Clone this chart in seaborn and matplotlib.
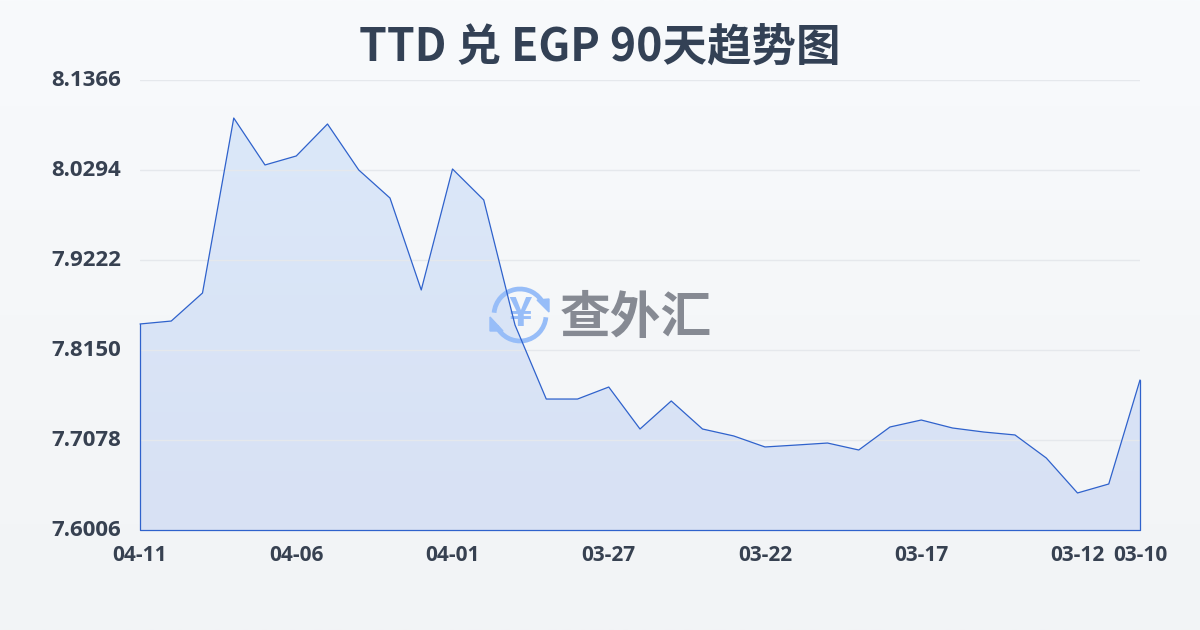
import numpy as np
import pandas as pd
import matplotlib
matplotlib.use("Agg")
import matplotlib.pyplot as plt
from matplotlib.patches import Arc, Polygon
from matplotlib.transforms import ScaledTranslation
import seaborn as sns

steps = list(range(33))
rates = [7.8460, 7.8495, 7.8829, 8.0913, 8.0354, 8.0461, 8.0842, 8.0294, 7.9960, 7.8865, 8.0306,
         7.9937, 7.8448, 7.7566, 7.7566, 7.7709, 7.7209, 7.7543, 7.7209, 7.7126, 7.6995, 7.7018,
         7.7042, 7.6959, 7.7233, 7.7316, 7.7221, 7.7173, 7.7138, 7.6864, 7.6447, 7.6554, 7.7793]
x_ticks = [0, 5, 10, 15, 20, 25, 30, 32]
x_labels = ["04-11", "04-06", "04-01", "03-27", "03-22", "03-17", "03-12", "03-10"]
y_ticks = [7.6006, 7.7078, 7.8150, 7.9222, 8.0294, 8.1366]
y_labels = ["7.6006", "7.7078", "7.8150", "7.9222", "8.0294", "8.1366"]
title = "TTD 兑 EGP 90天趋势图"
watermark = "查外汇"

sns.set_theme(style="white")
plt.rcParams['font.family'] = ['Noto Sans CJK SC', 'DejaVu Sans']
W, H = 1200, 630
fig = plt.figure(figsize=(12, 6.3), dpi=100)

# page background gradient
bg = fig.add_axes([0, 0, 1, 1], zorder=0)
bg.imshow(np.linspace(0, 1, 256).reshape(-1, 1),
          cmap=matplotlib.colors.LinearSegmentedColormap.from_list("bg", ["#f8fafc", "#f2f4f6"]),
          aspect="auto", extent=[0, W, H, 0])
bg.axis("off")

ax = fig.add_axes([140 / W, 1 - 530 / H, 1000 / W, 450 / H], zorder=1)
ax.patch.set_alpha(0)
df = pd.DataFrame({"step": steps, "rate": rates})
ax.set_xlim(0, 32)
ax.set_ylim(y_ticks[0], y_ticks[-1])

# area gradient clipped to the series
grad = matplotlib.colors.LinearSegmentedColormap.from_list("area", ["#dbe8f9", "#d8e1f4"])
im = ax.imshow(np.linspace(0, 1, 256).reshape(-1, 1), cmap=grad, aspect="auto",
               extent=[0, 32, y_ticks[0], max(rates)], zorder=1)
ax.set_xlim(0, 32)
ax.set_ylim(y_ticks[0], y_ticks[-1])
poly = ax.fill_between(df["step"], df["rate"], y_ticks[0], color="none")
im.set_clip_path(poly.get_paths()[0], transform=ax.transData)

ax.set_yticks(y_ticks)
ax.set_yticklabels(y_labels)
ax.set_xticks(x_ticks)
ax.set_xticklabels(x_labels)
ax.grid(axis="y", color="#e5e8ec", linewidth=1)
ax.set_axisbelow(False)
for g in ax.get_ygridlines():
    g.set_zorder(0.5)
for s in ax.spines.values():
    s.set_visible(False)
ax.tick_params(axis="y", length=0, pad=13.5, labelsize=16, labelcolor="#374151")
ax.tick_params(axis="x", length=10, width=1, color="#e5e8ec", pad=0.5, labelsize=15, labelcolor="#374151")
for t in ax.get_yticklabels() + ax.get_xticklabels():
    t.set_fontweight("bold")
    t.set_fontfamily("Open Sans")
for t in ax.get_yticklabels():
    t.set_transform(t.get_transform() + ScaledTranslation(0, 1.5 / 72, fig.dpi_scale_trans))

# overlay in pixel coordinates: watermark and title (below the series line)
ov = fig.add_axes([0, 0, 1, 1], zorder=2)
ov.set_xlim(0, W)
ov.set_ylim(H, 0)
ov.axis("off")
ov.patch.set_alpha(0)
logo = "#97bdf8"
cx, cy, r = 520, 315, 26
ov.add_patch(Arc((cx, cy), 2 * r, 2 * r, theta1=185, theta2=335, color=logo, lw=3.4))
ov.add_patch(Arc((cx, cy), 2 * r, 2 * r, theta1=5, theta2=155, color=logo, lw=3.4))
ov.add_patch(Polygon([[537, 300], [549, 299], [549, 312]], color=logo))
ov.add_patch(Polygon([[490, 317], [503, 331], [490, 331]], color=logo))
ov.text(cx, cy, "¥", ha="center", va="center", fontsize=29, fontweight="bold", color=logo)
ov.text(636, 319, watermark, ha="center", va="center", fontsize=36.5, fontweight="bold", color="#868a93")
ov.text(600, 48, title, ha="center", va="center", fontsize=32, fontweight="bold", color="#334155")

# series line on top
ax2 = fig.add_axes(ax.get_position(), zorder=3, sharex=ax, sharey=ax)
ax2.patch.set_alpha(0)
ax2.axis("off")
sns.lineplot(data=df, x="step", y="rate", ax=ax2, color="#2f62cc", linewidth=0.9, legend=False, clip_on=False)
ax2.plot([0, 0, 32, 32], [rates[0], y_ticks[0], y_ticks[0], rates[-1]], color="#2f62cc", lw=0.9, clip_on=False)

fig.savefig("out.png", dpi=100)
